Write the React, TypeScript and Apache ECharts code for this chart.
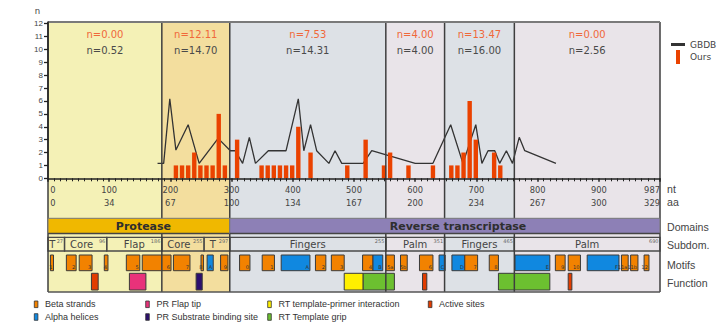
import React, { useEffect, useRef } from "react";
import * as echarts from "echarts";

// ---------------- data ----------------
const ntTicks = [0, 100, 200, 300, 400, 500, 600, 700, 800, 900, 987];
const aaTicks = [0, 34, 67, 100, 134, 167, 200, 234, 267, 300, 329];
const nTicks = [0, 1, 2, 3, 4, 5, 6, 7, 8, 9, 10, 11, 12];

const oursPos = [209, 219, 229, 239, 249, 259, 269, 279, 289, 309, 349, 359, 369, 379, 389, 399, 409, 429, 489, 519, 549, 559, 589, 629, 659, 669, 679, 689, 699, 729, 739];
const oursVal = [1, 1, 1, 2, 1, 1, 1, 5, 1, 3, 1, 1, 1, 1, 1, 1, 4, 2, 1, 3, 1, 2, 1, 1, 1, 1, 2, 6, 3, 2, 1];

const gbdbPos = [179, 189, 199, 209, 229, 247, 278, 298, 306, 318, 329, 339, 360, 389, 409, 418, 429, 439, 459, 469, 480, 515, 529, 600, 629, 658, 678, 699, 709, 719, 730, 738, 749, 759, 770, 779, 830];
const gbdbVal = [1.16, 1.16, 6.17, 2.19, 4.16, 1.16, 3.1, 2.14, 2.14, 1.16, 3.18, 1.16, 2.14, 2.14, 6.17, 2.14, 4.16, 2.14, 1.16, 2.14, 1.16, 1.16, 2.14, 1.16, 1.16, 4.16, 1.16, 4.16, 1.16, 2.14, 2.14, 1.16, 2.14, 1.16, 3.18, 2.14, 1.16];

const regionStart = [0, 186, 297, 552, 648, 762];
const regionEnd = [186, 297, 552, 648, 762, 1000];
const oursN = ["0.00", "12.11", "7.53", "4.00", "13.47", "0.00"];
const gbdbN = ["0.52", "14.70", "14.31", "4.00", "16.00", "2.56"];

const domainNames = ["Protease", "Reverse transcriptase"];
const domainStart = [0, 297];
const domainEnd = [297, 1000];

const subNames = ["T", "Core", "Flap", "Core", "T", "Fingers", "Palm", "Fingers", "Palm"];
const subStart = [0, 27, 96, 186, 255, 297, 552, 648, 762];
const subEnd = [27, 96, 186, 255, 297, 552, 648, 762, 1000];
const subEndLabel = ["27", "96", "186", "255", "297", "255", "351", "465", "690"];

const motifStart = [4, 30, 51, 92, 128, 154, 205, 250, 260, 282, 313, 350, 381, 437, 463, 514, 531, 552, 576, 607, 639, 660, 681, 721, 763, 829, 850, 881, 937, 952, 974];
const motifEnd = [9, 46, 72, 98, 150, 201, 232, 254, 270, 294, 330, 370, 428, 454, 484, 531, 547, 566, 587, 629, 649, 681, 702, 736, 820, 845, 870, 933, 948, 964, 982];
const motifKind = ["b", "b", "b", "b", "b", "b", "b", "b", "a", "b", "b", "b", "a", "b", "b", "b", "a", "b", "b", "b", "a", "a", "b", "b", "a", "b", "b", "a", "b", "b", "b"];
const motifLabel = ["1", "2", "3", "4", "5", "6", "7", "8", "A", "9", "0", "1", "A", "2", "3", "4", "B", "5a", "5b", "6", "C", "D", "7", "8", "E", "9", "10", "F", "11a", "11b", "12"];

const funcStart = [71, 133, 242, 484, 515, 612, 736, 850];
const funcEnd = [82, 160, 252, 515, 566, 619, 820, 856];
const funcKind = ["active", "flap", "subst", "tp", "grip", "active", "grip", "active"];

const boundaries = [0, 186, 297, 552, 648, 762, 1000];

const legendLabels = ["Beta strands", "Alpha helices", "PR Flap tip", "PR Substrate binding site", "RT template-primer interaction", "RT Template grip", "Active sites"];
const rightLabels = ["nt", "aa", "Domains", "Subdom.", "Motifs", "Function"];

// ---------------- styles / layout ----------------
const SANS = '"DejaVu Sans", sans-serif';
const ARIAL = '"Liberation Sans", Arial, sans-serif';

const C_OURS = "#ea4200";
const C_GBDB = "#333333";
const C_BETA = "#f28200";
const C_ALPHA = "#1088e0";
const C_ACTIVE = "#e23c00";
const C_FLAP = "#e8327a";
const C_SUBST = "#2c0f6e";
const C_TP = "#fff000";
const C_GRIP = "#6cc030";
const regionColors = ["#f4f1b6", "#f3de9e", "#dde1e6", "#e9e4e9", "#dde1e6", "#e9e4e9"];
const domainColors = ["#f0b800", "#8d80b6"];
const funcColors: Record<string, string> = { active: C_ACTIVE, flap: C_FLAP, subst: C_SUBST, tp: C_TP, grip: C_GRIP };
const legendColors = [C_BETA, C_ALPHA, C_FLAP, C_SUBST, C_TP, C_GRIP, C_ACTIVE];
const legendCol = [0, 0, 1, 1, 2, 2, 3];
const legendRow = [0, 1, 0, 1, 0, 1, 0];
const legendColX = [34.3, 145.7, 267.7, 428.3];
const legendRowY = [304.3, 317];
const rightLabelY = [188.5, 202, 226.5, 244.5, 264.7, 282.5];

const X_MAX = 1000;
const H1 = 270; // lower grid units (px from plot top)
const Y_NOURS = 12.7;
const Y_NGBDB = 28.8;
const DOM_Y = [196.3, 211.5];
const SUB_Y = [215.3, 229];
const MOT_Y = [233, 248.7];
const FUN_Y = [251.3, 268];
const domainLabelAt = [156, 670];

const rectBetween = (api: any, x0: number, y0: number, x1: number, y1: number) => {
  const a = api.coord([x0, y0]);
  const b = api.coord([x1, y1]);
  return { x: a[0], y: a[1], width: b[0] - a[0], height: b[1] - a[1] };
};

const lower = { xAxisIndex: 1, yAxisIndex: 1, type: "custom", silent: true, clip: false };

const option: any = {
  animation: false,
  grid: [
    { left: 48, width: 612, top: 22, height: 156.3 },
    { left: 48, width: 612, top: 22, height: H1 },
  ],
  xAxis: [
    {
      type: "value", gridIndex: 0, min: 0, max: X_MAX, interval: 100, z: 7,
      axisLine: { lineStyle: { color: "#222", width: 1.5 } },
      axisTick: { length: 3.5, lineStyle: { color: "#222", width: 1.5 } },
      minorTick: { show: true, splitNumber: 10, length: 3, lineStyle: { color: "#222", width: 1 } },
      splitLine: { show: false },
      axisLabel: {
        customValues: ntTicks,
        margin: 5,
        fontSize: 8.3, fontFamily: SANS, color: "#444", lineHeight: 13,
        formatter: (v: number) => {
          const n = Math.round(v);
          const i = ntTicks.indexOf(n);
          const aa = i >= 0 ? aaTicks[i] : "";
          return n === 0 ? `{z|${n}}\n{z|${aa}}` : `${n}\n${aa}`;
        },
        rich: { z: { padding: [0, 0, 0, 10], fontSize: 8.3, fontFamily: SANS, color: "#444", lineHeight: 13 } },
      },
    },
    { type: "value", gridIndex: 1, min: 0, max: X_MAX, show: false },
  ],
  yAxis: [
    {
      type: "value", gridIndex: 0, min: 0, max: 12.13, interval: 1, z: 7,
      name: "n", nameLocation: "end", nameGap: 7,
      nameTextStyle: { fontSize: 8.5, fontFamily: SANS, color: "#444", padding: [0, 21, 0, 0] },
      axisLine: { show: true, lineStyle: { color: "#222", width: 1.5 } },
      axisTick: { show: true, customValues: nTicks, length: 4, lineStyle: { color: "#222", width: 1.3 } },
      axisLabel: { customValues: nTicks, margin: 5, fontSize: 8, fontFamily: ARIAL, color: "#444" },
      splitLine: { show: false },
    },
    { type: "value", gridIndex: 1, min: 0, max: H1, inverse: true, show: false },
  ],
  legend: {
    orient: "vertical", left: 666, top: 35, itemWidth: 14, itemHeight: 14, itemGap: 1,
    selectedMode: false,
    textStyle: { fontSize: 9, fontFamily: SANS, color: "#444" },
    data: [
      { name: "GBDB", icon: "path://M0,0H14V3H0Z", itemStyle: { color: C_GBDB } },
      { name: "Ours", icon: "path://M0,0H4V14H0Z", itemStyle: { color: C_OURS } },
    ],
  },
  series: [
    {
      ...lower, name: "regions", z: 0,
      data: regionStart.map((s, i) => [s, regionEnd[i]]),
      renderItem: (params: any, api: any) => {
        const i = params.dataIndex;
        const r = rectBetween(api, regionStart[i], 0, regionEnd[i], H1);
        const cx = r.x + r.width / 2;
        return {
          type: "group",
          children: [
            { type: "rect", shape: r, style: { fill: regionColors[i] } },
            { type: "text", style: { text: "n=" + oursN[i], x: cx, y: api.coord([0, Y_NOURS])[1], align: "center", verticalAlign: "middle", fontSize: 10, fontFamily: SANS, fill: "#f0683a" } },
            { type: "text", style: { text: "n=" + gbdbN[i], x: cx, y: api.coord([0, Y_NGBDB])[1], align: "center", verticalAlign: "middle", fontSize: 10, fontFamily: SANS, fill: "#4a4a4a" } },
          ],
        };
      },
    },
    {
      name: "GBDB", type: "line", xAxisIndex: 0, yAxisIndex: 0, z: 3,
      color: C_GBDB, symbol: "none",
      lineStyle: { color: C_GBDB, width: 1.3 },
      data: gbdbPos.map((p, i) => [p, gbdbVal[i]]),
    },
    {
      name: "Ours", type: "bar", xAxisIndex: 0, yAxisIndex: 0, z: 4,
      color: C_OURS, barWidth: 4.4,
      itemStyle: { color: C_OURS },
      data: oursPos.map((p, i) => [p, oursVal[i]]),
    },
    {
      ...lower, name: "subdomains", z: 3,
      data: subStart.map((s, i) => [s, subEnd[i]]),
      renderItem: (params: any, api: any) => {
        const i = params.dataIndex;
        const r = rectBetween(api, subStart[i], SUB_Y[0], subEnd[i], SUB_Y[1]);
        const shift = r.width < 50 ? -4 : 0;
        return {
          type: "group",
          children: [
            { type: "rect", shape: r, style: { fill: "none", stroke: "#4a4a4a", lineWidth: 1.3 } },
            { type: "text", style: { text: subNames[i], x: r.x + r.width / 2 + shift, y: r.y + r.height / 2 + 0.8, align: "center", verticalAlign: "middle", fontSize: 10, fontFamily: SANS, fill: "#444" } },
            { type: "text", style: { text: subEndLabel[i], x: r.x + r.width - 1.5, y: r.y + 1, align: "right", verticalAlign: "top", fontSize: 5, fontFamily: SANS, fill: "#666" } },
          ],
        };
      },
    },
    {
      ...lower, name: "motifs", z: 3,
      data: motifStart.map((s, i) => [s, motifEnd[i]]),
      renderItem: (params: any, api: any) => {
        const i = params.dataIndex;
        const r = rectBetween(api, motifStart[i], MOT_Y[0], motifEnd[i], MOT_Y[1]);
        return {
          type: "group",
          children: [
            { type: "rect", shape: r, style: { fill: motifKind[i] === "a" ? C_ALPHA : C_BETA, stroke: "#3a3a3a", lineWidth: 1 } },
            { type: "text", style: { text: motifLabel[i], x: r.x + r.width - 1, y: r.y + r.height - 0.8, align: "right", verticalAlign: "bottom", fontSize: 5, fontFamily: SANS, fill: "#333" } },
          ],
        };
      },
    },
    {
      ...lower, name: "functions", z: 3,
      data: funcStart.map((s, i) => [s, funcEnd[i]]),
      renderItem: (params: any, api: any) => {
        const i = params.dataIndex;
        const r = rectBetween(api, funcStart[i], FUN_Y[0], funcEnd[i], FUN_Y[1]);
        return { type: "rect", shape: r, style: { fill: funcColors[funcKind[i]], stroke: "#3a3a3a", lineWidth: 1 } };
      },
    },
    {
      ...lower, name: "boundaries", z: 5,
      data: boundaries.map((b) => [b, 0]),
      renderItem: (params: any, api: any) => {
        const b = boundaries[params.dataIndex];
        const a = api.coord([b, 0]);
        const c = api.coord([b, H1]);
        return { type: "line", shape: { x1: a[0], y1: a[1], x2: c[0], y2: c[1] }, style: { stroke: "#3e3e3e", lineWidth: 1.5 } };
      },
    },
    {
      ...lower, name: "frame", z: 5,
      data: [[0, 0]],
      renderItem: (params: any, api: any) => {
        const t0 = api.coord([0, 0]);
        const t1 = api.coord([X_MAX, 0]);
        const b0 = api.coord([0, H1]);
        const b1 = api.coord([X_MAX, H1]);
        return {
          type: "group",
          children: [
            { type: "line", shape: { x1: t0[0], y1: t0[1], x2: t1[0], y2: t1[1] }, style: { stroke: "#7a7a7a", lineWidth: 2 } },
            { type: "line", shape: { x1: b0[0], y1: b0[1], x2: b1[0], y2: b1[1] }, style: { stroke: "#555", lineWidth: 1.5 } },
          ],
        };
      },
    },
    {
      ...lower, name: "domains", z: 6,
      data: domainStart.map((s, i) => [s, domainEnd[i]]),
      renderItem: (params: any, api: any) => {
        const i = params.dataIndex;
        const r = rectBetween(api, domainStart[i], DOM_Y[0], domainEnd[i], DOM_Y[1]);
        const lx = api.coord([domainLabelAt[i], 0])[0];
        return {
          type: "group",
          children: [
            { type: "rect", shape: r, style: { fill: domainColors[i], stroke: "#777", lineWidth: 1 } },
            { type: "line", shape: { x1: r.x, y1: r.y + r.height, x2: r.x + r.width, y2: r.y + r.height }, style: { stroke: "#444", lineWidth: 1.5 } },
            { type: "text", style: { text: domainNames[i], x: lx, y: r.y + r.height / 2 + 0.5, align: "center", verticalAlign: "middle", fontSize: 11, fontWeight: "bold", fontFamily: SANS, fill: "#2e2e2e" } },
          ],
        };
      },
    },
  ],
  graphic: {
    elements: [
      ...legendLabels.flatMap((lab, i) => {
        const x = legendColX[legendCol[i]];
        const y = legendRowY[legendRow[i]];
        return [
          { type: "rect", silent: true, shape: { x: x, y: y - 3.3, width: 3.6, height: 6.6 }, style: { fill: legendColors[i], stroke: "#333", lineWidth: 0.8 } },
          { type: "text", silent: true, style: { text: lab, x: x + 10.7, y: y, verticalAlign: "middle", fontSize: 9, fontFamily: ARIAL, fill: "#333" } },
        ];
      }),
      ...rightLabels.map((lab, i) => ({
        type: "text", silent: true,
        style: { text: lab, x: 667, y: rightLabelY[i], verticalAlign: "middle", fontSize: 10.6, fontFamily: ARIAL, fill: "#444" },
      })),
    ],
  },
};

export default function App() {
  const ref = useRef<HTMLDivElement>(null);
  useEffect(() => {
    const chart = echarts.init(ref.current as HTMLDivElement, null, { renderer: "svg" });
    chart.setOption(option);
    return () => chart.dispose();
  }, []);
  return <div ref={ref} style={{ position: "absolute", left: 0, top: 0, width: 720, height: 323 }} />;
}
